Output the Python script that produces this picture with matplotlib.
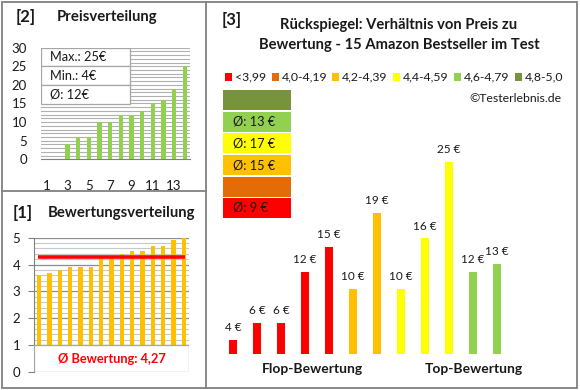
import matplotlib.pyplot as plt
from matplotlib.patches import Rectangle
from matplotlib.lines import Line2D
import numpy as np

plt.rcParams['font.family'] = ['Lato', 'DejaVu Sans']

# -------------------------
# data
# -------------------------
# [2] price distribution (sorted prices, positions 1..14)
price_pos = list(range(1, 15))
price_vals = [0, 0, 4, 6, 6, 10, 10, 12, 12, 13, 15, 16, 19, 25]
price_stats = ["Max.: 25€", "Min.: 4€", "Ø: 12€"]

# [1] rating distribution
rating_vals = [3.6, 3.7, 3.8, 3.9, 3.9, 3.9, 4.3, 4.3, 4.4, 4.5, 4.5, 4.7, 4.7, 4.9, 5.0]
rating_mean = 4.27

# [3] price by rating class
main_prices = [4, 6, 6, 12, 15, 10, 19, 10, 16, 25, 12, 13]
main_group = [0, 0, 0, 0, 0, 2, 2, 3, 3, 3, 4, 4]
class_labels = ["<3,99", "4,0-4,19", "4,2-4,39", "4,4-4,59", "4,6-4,79", "4,8-5,0"]
class_colors = ["#FF0000", "#E36C09", "#FFC000", "#FFFF00", "#92D050", "#77933C"]
class_avg = [9, None, 15, 17, 13, None]

W, H = 580, 390
fig = plt.figure(figsize=(5.8, 3.9), dpi=100)

def fx(x):
    return x / W

def fy(y):
    return 1 - y / H

def box(x0, y0, x1, y1):
    return [fx(x0), fy(y1), fx(x1) - fx(x0), fy(y0) - fy(y1)]

grey = "#808080"
txt = "#1A1A1A"

# panel borders
fig.add_artist(Rectangle((fx(1.5), fy(388)), fx(577) - fx(1.5), fy(1.5) - fy(388),
                         transform=fig.transFigure, fill=False, ec=grey, lw=1.3))
fig.add_artist(Line2D([fx(206), fx(206)], [fy(1.5), fy(388)], color=grey, lw=1.3))
fig.add_artist(Line2D([fx(1.5), fx(206)], [fy(191), fy(191)], color=grey, lw=1.3))

# -------------------------
# [2] Preisverteilung
# -------------------------
fig.text(fx(16), fy(17), "[2]", fontsize=12, fontweight="bold", color=txt, va="center")
fig.text(fx(57), fy(17), "Preisverteilung", fontsize=10.7, fontweight="bold", color=txt, va="center")

ax2 = fig.add_axes(box(41, 47.7, 190, 159.3))
ax2.bar(price_pos, price_vals, width=0.4, color="#92D050", zorder=3)
ax2.set_xlim(0.5, 14.5)
ax2.set_ylim(0, 30)
ax2.set_yticks(range(0, 31, 5))
ax2.set_yticks(range(0, 31, 1), minor=True)
ax2.set_xticks(range(1, 14, 2))
ax2.grid(axis="y", which="both", color="#B0B0B0", lw=0.8, zorder=0)
for s in ["top", "right", "left"]:
    ax2.spines[s].set_visible(False)
ax2.spines["bottom"].set_color(grey)
ax2.tick_params(axis="both", which="both", length=0, labelsize=9.5, colors=txt)
ax2.tick_params(axis="x", pad=15)
ax2.tick_params(axis="y", pad=10)

# stats table
row_h = 1.0 / len(price_stats)
for i, s in enumerate(price_stats):
    y0 = 1 - (i + 1) * row_h
    ax2.add_patch(Rectangle((0, y0 * 0.5 + 0.5), 0.6, row_h * 0.5, transform=ax2.transAxes,
                            fc="white", ec="#A6A6A6", lw=0.9, zorder=4))
    ax2.text(0.06, y0 * 0.5 + 0.5 + row_h * 0.25, s, transform=ax2.transAxes,
             fontsize=9.2, color=txt, va="center", zorder=5)

# -------------------------
# [1] Bewertungsverteilung
# -------------------------
fig.text(fx(13), fy(213), "[1]", fontsize=12, fontweight="bold", color=txt, va="center")
fig.text(fx(48), fy(213), "Bewertungsverteilung", fontsize=10.7, fontweight="bold", color=txt, va="center")

ax1 = fig.add_axes(box(34, 237.7, 189, 372))
pos1 = np.arange(1, len(rating_vals) + 1)
ax1.bar(pos1, rating_vals, width=0.42, color="#FFC000", zorder=3)
ax1.set_xlim(0.5, len(rating_vals) + 0.5)
ax1.set_ylim(0, 5)
ax1.set_yticks(range(0, 6))
ax1.set_yticks(np.arange(0, 5.01, 0.2), minor=True)
ax1.set_xticks([])
ax1.grid(axis="y", which="minor", color="#C8C8C8", lw=0.8, zorder=0)
ax1.grid(axis="y", which="major", color="#8C8C8C", lw=0.9, zorder=1)
for s in ["top", "right", "bottom"]:
    ax1.spines[s].set_visible(False)
ax1.spines["left"].set_color(grey)
ax1.tick_params(axis="y", which="major", length=4, color=grey, labelsize=9.5, labelcolor=txt, pad=6)
ax1.tick_params(axis="y", which="minor", length=0)
ax1.hlines(rating_mean, 0.85, len(rating_vals) + 0.15, color="#FF0000", lw=2.6, zorder=4)
ax1.add_patch(Rectangle((0, 0), 1, 0.2, transform=ax1.transAxes, fc="white", ec="#A6A6A6",
                        lw=0.9, zorder=5))
ax1.text(0.5, 0.1, "Ø Bewertung: " + f"{rating_mean:.2f}".replace(".", ","), transform=ax1.transAxes,
         ha="center", va="center", fontsize=9.2, fontweight="bold", color="#FF0000", zorder=6)

# -------------------------
# [3] main chart
# -------------------------
fig.text(fx(222), fy(20), "[3]", fontsize=12, fontweight="bold", color=txt, va="center")
fig.text(fx(399), fy(25), "Rückspiegel: Verhältnis von Preis zu", fontsize=10.6,
         fontweight="bold", color=txt, ha="center", va="center")
fig.text(fx(399), fy(45), "Bewertung - 15 Amazon Bestseller im Test", fontsize=10.6,
         fontweight="bold", color=txt, ha="center", va="center")

leg_x = [225, 272, 332, 393, 454, 515]
for x, lab, col in zip(leg_x, class_labels, class_colors):
    fig.add_artist(Rectangle((fx(x), fy(80.5)), fx(6.5), fy(0) - fy(7),
                             transform=fig.transFigure, fc=col, ec="none"))
    fig.text(fx(x + 10), fy(77), lab, fontsize=8.8, color=txt, va="center")
fig.text(fx(562), fy(98), "©Testerlebnis.de", fontsize=8.8, color=txt, ha="right", va="center")

# average price blocks, top = best class
row_tops = [90, 112, 133, 155, 177, 198]
for i, ci in enumerate(range(len(class_colors) - 1, -1, -1)):
    y0 = row_tops[i]
    fig.add_artist(Rectangle((fx(223), fy(y0 + 20)), fx(291) - fx(223), fy(0) - fy(20),
                             transform=fig.transFigure, fc=class_colors[ci], ec="none"))
    if class_avg[ci] is not None:
        fig.text(fx(233), fy(y0 + 10), f"Ø: {class_avg[ci]} €", fontsize=9.2,
                 color=txt, va="center")

ax3 = fig.add_axes(box(221, 120, 569, 354))
pos3 = np.arange(len(main_prices))
ax3.bar(pos3, main_prices, width=0.36, color=[class_colors[g] for g in main_group], zorder=3)
ax3.set_xlim(-0.5, 14.0)
ax3.set_ylim(2.35, 30)
for x, v in zip(pos3, main_prices):
    ax3.annotate(f"{v} €", (x, v), xytext=(0, 5), textcoords="offset points",
                 ha="center", va="bottom", fontsize=8.5, color=txt)
ax3.axis("off")

fig.text(fx(312), fy(369), "Flop-Bewertung", fontsize=10, fontweight="bold", color=txt,
         ha="center", va="center")
fig.text(fx(474), fy(369), "Top-Bewertung", fontsize=10, fontweight="bold", color=txt,
         ha="center", va="center")

fig.savefig("out.png", dpi=100)
